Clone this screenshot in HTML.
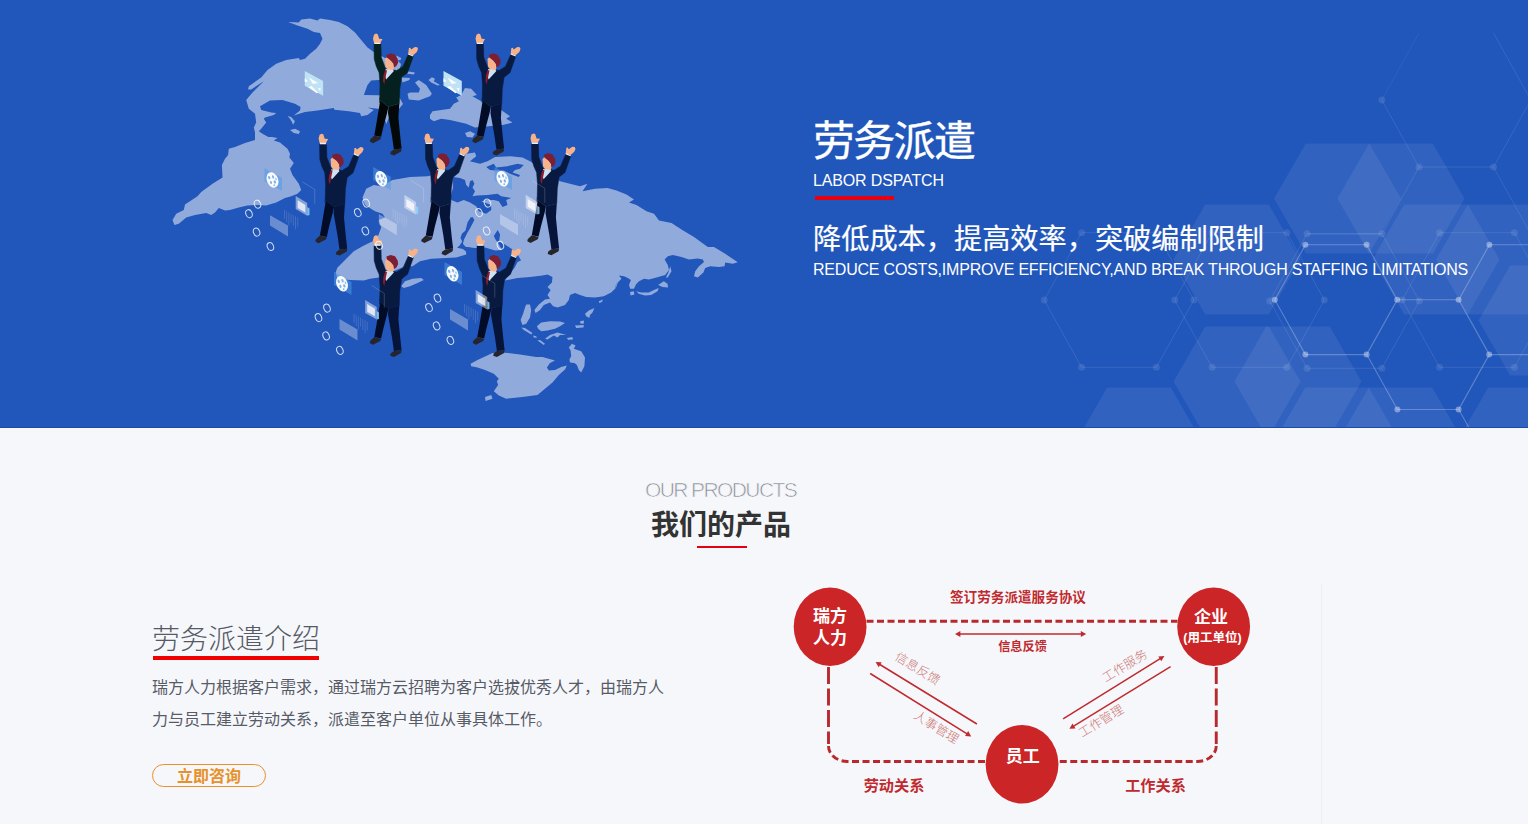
<!DOCTYPE html>
<html lang="zh-CN">
<head>
<meta charset="utf-8">
<title>劳务派遣</title>
<style>
*{margin:0;padding:0;box-sizing:border-box}
html,body{width:1528px;height:824px;overflow:hidden;background:#f6f7fb}
body{font-family:"Liberation Sans","Noto Sans CJK SC",sans-serif;position:relative}
.abs{position:absolute;white-space:nowrap}
#hero{position:absolute;left:0;top:0;width:1528px;height:428px;background:#2156ba;overflow:hidden}
#hero svg{position:absolute;left:0;top:0}
.h1{left:813px;top:112px;font-size:42px;line-height:60px;letter-spacing:-1.7px;color:#fff;font-weight:400;-webkit-text-stroke:0.35px #fff}
.h1en{left:813px;top:169px;font-size:16px;line-height:24px;letter-spacing:-0.15px;color:#fff}
.redbar{position:absolute;left:815px;top:196px;width:79px;height:4px;background:#e60012}
.h2{left:813px;top:218.5px;font-size:28.2px;line-height:40px;color:#fff;-webkit-text-stroke:0.2px #fff}
.h2en{left:813px;top:258px;font-size:16px;line-height:24px;letter-spacing:-0.21px;color:#fff}
#sec{position:absolute;left:0;top:428px;width:1528px;height:396px;background:#f6f7fb}
.op{left:645px;top:476px;font-size:21px;line-height:28px;letter-spacing:-1.6px;color:#868a93;font-weight:300;-webkit-text-stroke:0.7px #f6f7fb}
.op2{left:651px;top:506px;font-size:28px;line-height:40px;color:#333;font-weight:700}
.redbar2{position:absolute;left:697px;top:546px;width:50px;height:2px;background:#e60012}
.t3{left:152px;top:620px;font-size:28px;line-height:40px;color:#555a64;font-weight:300}
.redbar3{position:absolute;left:153px;top:656px;width:166px;height:4px;background:#f20000}
.p{position:absolute;left:152px;top:672px;width:520px;font-size:16px;line-height:32px;color:#565b66}
.btn{position:absolute;left:152px;top:764px;width:114px;height:23px;border:1px solid #e8912b;border-radius:12px;color:#e8912b;font-weight:700;font-size:16px;line-height:23px;text-align:center}
#dia{position:absolute;left:764px;top:560px;width:764px;height:264px}
</style>
</head>
<body>
<div id="hero">
<svg id="herosvg" width="1528" height="428" viewBox="0 0 1528 428">
<path fill="#fff" fill-opacity="0.075" d="M1274.0,198.5 1305.8,143.5 1369.2,143.5 1401.0,198.5 1369.2,253.5 1305.8,253.5Z"/>
<path fill="#fff" fill-opacity="0.075" d="M1337.5,198.5 1369.2,143.5 1432.8,143.5 1464.5,198.5 1432.8,253.5 1369.2,253.5Z"/>
<path fill="#fff" fill-opacity="0.075" d="M1173.5,259.5 1205.2,204.5 1268.8,204.5 1300.5,259.5 1268.8,314.5 1205.2,314.5Z"/>
<path fill="#fff" fill-opacity="0.075" d="M1372.5,259.5 1404.2,204.5 1467.8,204.5 1499.5,259.5 1467.8,314.5 1404.2,314.5Z"/>
<path fill="#fff" fill-opacity="0.075" d="M1436.0,259.5 1467.8,204.5 1531.2,204.5 1563.0,259.5 1531.2,314.5 1467.8,314.5Z"/>
<path fill="#fff" fill-opacity="0.075" d="M1173.5,381.5 1205.2,326.5 1268.8,326.5 1300.5,381.5 1268.8,436.5 1205.2,436.5Z"/>
<path fill="#fff" fill-opacity="0.075" d="M1234.5,381.5 1266.2,326.5 1329.8,326.5 1361.5,381.5 1329.8,436.5 1266.2,436.5Z"/>
<path fill="#fff" fill-opacity="0.075" d="M1478.5,320.5 1510.2,265.5 1573.8,265.5 1605.5,320.5 1573.8,375.5 1510.2,375.5Z"/>
<path fill="#fff" fill-opacity="0.075" d="M1075.5,442.5 1107.2,387.5 1170.8,387.5 1202.5,442.5 1170.8,497.5 1107.2,497.5Z"/>
<path fill="#fff" fill-opacity="0.075" d="M1273.5,442.5 1305.2,387.5 1368.8,387.5 1400.5,442.5 1368.8,497.5 1305.2,497.5Z"/>
<path fill="#fff" fill-opacity="0.075" d="M1337.0,442.5 1368.8,387.5 1432.2,387.5 1464.0,442.5 1432.2,497.5 1368.8,497.5Z"/>
<path fill="#fff" fill-opacity="0.075" d="M1456.5,442.5 1488.2,387.5 1551.8,387.5 1583.5,442.5 1551.8,497.5 1488.2,497.5Z"/>
<path fill="none" stroke="#fff" stroke-opacity="0.10" stroke-width="1" d="M1044.2,300.0 1081.6,232.7 1156.4,232.7 1193.8,300.0 1156.4,367.3 1081.6,367.3Z M1174.7,300.0 1212.1,232.7 1286.9,232.7 1324.3,300.0 1286.9,367.3 1212.1,367.3Z M1269.7,301.0 1307.1,233.7 1381.9,233.7 1419.3,301.0 1381.9,368.3 1307.1,368.3Z M1402.2,300.0 1439.6,232.7 1514.4,232.7 1551.8,300.0 1514.4,367.3 1439.6,367.3Z M1381.75,100L1419,167 M1419,167L1493.5,167 M1493.5,33L1530.75,100 M1530.75,100L1493.5,167 M1419,167L1381.75,234 M1381.75,234L1307.25,234 M1493.5,167L1530.75,234"/>
<path fill="none" stroke="#fff" stroke-opacity="0.06" stroke-width="1" d="M1419,33L1381.75,100"/>
<circle cx="1044.2" cy="300.0" r="3.5" fill="#fff" fill-opacity="0.10"/>
<circle cx="1081.6" cy="232.7" r="3.5" fill="#fff" fill-opacity="0.10"/>
<circle cx="1156.4" cy="232.7" r="3.5" fill="#fff" fill-opacity="0.10"/>
<circle cx="1193.8" cy="300.0" r="3.5" fill="#fff" fill-opacity="0.10"/>
<circle cx="1156.4" cy="367.3" r="3.5" fill="#fff" fill-opacity="0.10"/>
<circle cx="1081.6" cy="367.3" r="3.5" fill="#fff" fill-opacity="0.10"/>
<circle cx="1174.7" cy="300.0" r="3.5" fill="#fff" fill-opacity="0.10"/>
<circle cx="1212.1" cy="232.7" r="3.5" fill="#fff" fill-opacity="0.10"/>
<circle cx="1286.9" cy="232.7" r="3.5" fill="#fff" fill-opacity="0.10"/>
<circle cx="1324.3" cy="300.0" r="3.5" fill="#fff" fill-opacity="0.10"/>
<circle cx="1286.9" cy="367.3" r="3.5" fill="#fff" fill-opacity="0.10"/>
<circle cx="1212.1" cy="367.3" r="3.5" fill="#fff" fill-opacity="0.10"/>
<circle cx="1269.7" cy="301.0" r="3.5" fill="#fff" fill-opacity="0.10"/>
<circle cx="1307.1" cy="233.7" r="3.5" fill="#fff" fill-opacity="0.10"/>
<circle cx="1381.9" cy="233.7" r="3.5" fill="#fff" fill-opacity="0.10"/>
<circle cx="1419.3" cy="301.0" r="3.5" fill="#fff" fill-opacity="0.10"/>
<circle cx="1381.9" cy="368.3" r="3.5" fill="#fff" fill-opacity="0.10"/>
<circle cx="1307.1" cy="368.3" r="3.5" fill="#fff" fill-opacity="0.10"/>
<circle cx="1402.2" cy="300.0" r="3.5" fill="#fff" fill-opacity="0.10"/>
<circle cx="1439.6" cy="232.7" r="3.5" fill="#fff" fill-opacity="0.10"/>
<circle cx="1514.4" cy="232.7" r="3.5" fill="#fff" fill-opacity="0.10"/>
<circle cx="1551.8" cy="300.0" r="3.5" fill="#fff" fill-opacity="0.10"/>
<circle cx="1514.4" cy="367.3" r="3.5" fill="#fff" fill-opacity="0.10"/>
<circle cx="1439.6" cy="367.3" r="3.5" fill="#fff" fill-opacity="0.10"/>
<circle cx="1381.8" cy="100.0" r="3.5" fill="#fff" fill-opacity="0.10"/>
<circle cx="1419.0" cy="167.0" r="3.5" fill="#fff" fill-opacity="0.10"/>
<circle cx="1493.5" cy="167.0" r="3.5" fill="#fff" fill-opacity="0.10"/>
<path fill="none" stroke="#fff" stroke-opacity="0.26" stroke-width="1.1" d="M1274.8,299.7 1305.4,244.8 1366.6,244.8 1397.2,299.7 1366.6,354.6 1305.4,354.6Z M1366.8,354.6 1397.4,299.7 1458.6,299.7 1489.2,354.6 1458.6,409.5 1397.4,409.5Z M1458.8,299.7 1489.4,244.8 1550.6,244.8 1581.2,299.7 1550.6,354.6 1489.4,354.6Z M1458.8,409.5 1489.4,354.6 1550.6,354.6 1581.2,409.5 1550.6,464.4 1489.4,464.4Z"/>
<circle cx="1274.8" cy="299.7" r="3" fill="#fff" fill-opacity="0.38"/>
<circle cx="1305.4" cy="244.8" r="3" fill="#fff" fill-opacity="0.38"/>
<circle cx="1366.6" cy="244.8" r="3" fill="#fff" fill-opacity="0.38"/>
<circle cx="1397.2" cy="299.7" r="3" fill="#fff" fill-opacity="0.38"/>
<circle cx="1366.6" cy="354.6" r="3" fill="#fff" fill-opacity="0.38"/>
<circle cx="1305.4" cy="354.6" r="3" fill="#fff" fill-opacity="0.38"/>
<circle cx="1458.6" cy="299.7" r="3" fill="#fff" fill-opacity="0.38"/>
<circle cx="1489.2" cy="354.6" r="3" fill="#fff" fill-opacity="0.38"/>
<circle cx="1458.6" cy="409.5" r="3" fill="#fff" fill-opacity="0.38"/>
<circle cx="1397.4" cy="409.5" r="3" fill="#fff" fill-opacity="0.38"/>
<circle cx="1489.4" cy="244.8" r="3" fill="#fff" fill-opacity="0.38"/>
<circle cx="1550.6" cy="244.8" r="3" fill="#fff" fill-opacity="0.38"/>
<circle cx="1581.2" cy="299.7" r="3" fill="#fff" fill-opacity="0.38"/>
<circle cx="1550.6" cy="354.6" r="3" fill="#fff" fill-opacity="0.38"/>
<circle cx="1581.2" cy="409.5" r="3" fill="#fff" fill-opacity="0.38"/>
<circle cx="1550.6" cy="464.4" r="3" fill="#fff" fill-opacity="0.38"/>
<circle cx="1489.4" cy="464.4" r="3" fill="#fff" fill-opacity="0.38"/>
<path fill="#90aadc" d="M288.1,22.1 298.8,22.5 301.2,19.4 310,18.5 317.5,20.6 320,18.5 330,20 338.8,21.9 347.5,26.2 355,32.5 361.2,40 367.5,47.5 373.8,51.9 385,58 397,60 401,64 399,72 400,80 398,95 403,104 398,110 392,110 389,117 386.5,124 384,118 380,109 367.5,107.5 373.8,110 367.5,115 361.2,116.2 360,113.1 348.8,111.2 334.4,109.8 333.8,108.1 317.5,110.6 305,111.9 293.8,115.6 300,110.6 300.6,106.9 295,103.8 282.5,100 270,100.6 260,106.2 261.2,110 271.2,112.5 276.2,113.1 273.8,115 265,117.5 263.8,118.8 266.2,122.5 261.2,128.8 258.8,131.2 262.5,133.8 273.8,140 267.5,142.5 260,136.9 255,132.5 253.8,127.5 256.2,122.5 255,113.8 248.8,108.8 246.2,100 246.9,105 246.2,100 252.5,92.5 263.8,81.2 251.2,89.4 248.1,89.4 248.8,86.2 261.2,77.5 267.5,70 276.2,63.8 286.2,60 298.8,58.1 300,60 305,58.8 310,53.8 316.2,48.8 320,43.8 322.5,38.8 320,33.1 313.8,31.9 307.5,28.8 297.5,25.6Z M287.5,116 291.2,116.9 295,121.2 293.1,124.8 291.9,121.9 290,118.8Z M290,130 295,128.8 300,131.2 298.8,134 293.8,133.1Z M396.2,55.6 401.2,58.1 400.6,60 396.9,60.6Z M406.9,71.2 415,72.5 413.8,74.4 407.5,73.8Z M401.2,77.5 410,78.1 409.4,80 402.5,82.5Z M407.5,93.8 410,92.5 418.8,92.5 420,88.8 415,82.5 418.8,80 426.2,85 431.9,93.8 430,96.2 418.8,100.6 408.8,99.4Z M428.5,80 431.9,77.2 435,78.8 433.8,81.2 440,85 437.5,85.6 431.2,82.5Z M430,115 432.5,111.2 450,108.8 453.8,103.8 458.8,101.2 456.2,97.5 461.2,95 465,88.1 471.2,88.8 476.9,95 472.5,96.2 481.2,101.2 501.2,110 510,116.2 506.2,118.8 512.5,122.5 502.5,125 475,127.5 466.2,123.8 450,120 441.2,118.8 433.8,121.2 430,118.8Z M456.2,103.8 463.8,104.4 466.2,106.9 458.8,105.6Z M255,132.5 260,134.4 263.8,135.6 277.5,138.1 273.8,140.6 280,142.5 287.5,148.8 290,153.8 289.4,157.5 293.8,163.1 290,168.8 292.5,175 298.8,183.8 301.2,190 297.5,193.8 291.2,196.2 285,198.1 276.2,202.5 266.2,205.6 257.5,205 247.5,205.6 238.8,207.5 230,210 225,210.6 218.8,208.1 215,212.5 211.2,215 206.2,213.1 195,215 186.2,217.5 178.8,223.8 174.4,225 172.5,220 176.2,213.8 183.8,210 185,204.4 197.5,196.2 201.2,191.9 212.5,183.8 222.5,177.5 221.9,165 225,158.8 228.1,155 228.8,148.8 235,146.9 245,143.1 255,140Z M366.2,188.8 373.8,185 381.2,186.2 392.5,180 410,176.9 427.5,176.2 456.2,170 460,160 466.2,153.8 475,152.5 476.2,156.2 470,161.2 480,163.8 487.5,161.2 495,157 510,156.2 522.5,157.5 530,161.2 555,177.5 560,181.2 580,186.2 587.5,183.8 582.5,191.2 595,188.8 607.5,188 616.5,190.6 626.5,194.4 634,199.4 629,202.5 636.5,205 646.5,211.2 654,213.8 659,220.6 671.5,223.1 681.5,229.4 694,236.9 707.8,246.9 714,246.9 725.2,253.8 737.8,262.2 732.8,263.8 725.2,262.5 724.6,266.2 719,266.9 710.2,266.2 705.2,268.1 703.4,272.5 697.8,277.5 694,276.2 695.2,271.2 699,266.2 704,261.9 702.8,259.4 697.8,258.5 689,259.4 681.5,256.9 672.8,255 667.8,256.2 664.6,259.4 667.8,265 669,270 665.2,275 656.5,277.5 649,279.4 644,278.8 639,281.2 635.9,284.4 634,288.8 630.2,288.8 629,285 630.9,280 627.8,278.1 624,276.2 619,275.6 621.5,278.8 617.8,282.5 615.2,290 616.9,281.2 615,288.8 611.2,292.5 603.8,296.2 595,297.5 586.2,296.9 580,295 575,293.1 570,295 568.8,300 565,305 557.5,307.5 553.1,306.2 550,302.5 543.8,305 540,310 535.6,313.1 534.4,310 538.8,304.4 545,299.4 550,298.8 547.5,295 550.6,290 547.5,286.9 551.9,282.5 552.5,276.9 547.5,274.4 542.5,275.6 530,276.9 517.5,278.1 505,280.6 514.7,267.4 517.6,262.1 521,260.6 518.5,255.8 512.7,249.5 508.8,247 504,244.1 499.1,241.2 500.1,234.4 497.7,230 493.8,235.9 495.7,239.8 498.2,243.2 502,250 495.2,250.4 485,247.5 475,248.1 466.2,246.9 466.2,254.4 456.2,257.5 431.2,258.8 420,261.2 412.5,266.2 405,266.2 378.8,277.5 370,278.8 363.8,280.6 350,280 337.5,278.8 335.6,272.5 337.5,267.5 343.8,261.2 353.8,251.2 362.5,246.2 372.5,241.2 378.8,232.5 371.2,242.5 377.5,237.5 381.2,227.5 378.8,220 385,217.5 382.5,213.8 375,211.2 365,205 362.5,197.5Z M465,133 470,131.2 475,133.8 472.5,137.5 467,137Z M401.2,286.2 405,281.2 412.5,278.8 421.2,278.1 423.8,280 417.5,283.1 410,286.2 403.8,288.1Z M526.2,304.4 530,304.4 531.2,310 530,317.5 526.2,323.8 522.5,325 520.6,320 523.1,313.8 525,307.5Z M536.9,326.2 541.2,322.5 550,321.2 560,321.5 565,323.1 560,326.2 555,328.8 547.5,330.6 541.2,331.2 538.1,328.8Z M521.2,327.5 525,328.1 532.5,333.1 531.2,334.4 523.8,330Z M533.1,335.6 536.2,336.2 536.9,337.8 533.8,337.5Z M545,338.8 550,335 557.5,332.5 566.2,335 560,335 557.5,337.5 553.8,335.6 547.5,339.4Z M567.5,337.8 572.5,337.2 573.1,339.4 568.1,339.8Z M585,313.8 588.8,310.6 594.4,308.1 592.5,312.5 590,315 589.4,318.1 586.2,316.2Z M580,321.2 583.8,320.6 584,323.5 580.6,323.8Z M575,325.6 583.8,325 583.5,327.5 576.2,327.9Z M598.8,301.2 603.1,299.4 601.9,301.9 599.4,302.9Z M636.2,291.2 641.2,292.5 648.8,292.5 655,289.4 658.8,288.1 657.5,291.2 651.2,295 645,295.6 638.8,293.8Z M658.1,285 663.8,281.2 667.5,283.8 668.1,287.5 662.5,286.9Z M630,291.9 633.8,291.2 634.4,294.4 630.6,295.6Z M670.2,266.2 671.5,271.2 667.8,277.5 665.9,277.5 668.4,272.5Z M470.6,363.8 477.5,360 492.5,353.1 505,352.8 520,354.4 536.2,356.9 542.5,356.9 555,360.6 550,363.1 546.9,367.5 548.8,370.6 555,370 561.2,366.9 566.9,365.6 565,369.4 558.8,375 552.5,382.5 545,388.8 537.5,395 522.5,396.9 506.2,398.8 498.8,395.6 493.8,391.2 498.1,385 496.9,381.2 498.8,378.8 493.8,373.8 485,370 477.5,367.5 471.2,366.2Z M485,396.9 491.2,395 492.5,398.8 485.6,401Z M568.8,347.5 571.9,343.8 575.6,345.6 573.8,348.8 581.2,351.2 585,357.5 584.4,366.2 581.2,372.5 578.8,370 576.9,365 574.4,363.1 570,362.5 569.4,359.4 571.2,356.2 570.6,350.6Z M537.5,340.6 540,340 545,343.8 543.8,345Z M566.9,338.1 571.2,337.2 573.1,339 568.1,340Z"/>
<path fill="#2156ba" d="M363.8,95 367.5,85 371.2,80.6 378.8,80 392.5,82.5 392.5,95.6Z"/>
<path fill="#2156ba" d="M453.1,176.9 460,178.1 465,180 466.2,185 468.8,187.5 470,181.2 472.5,180 474.4,183.8 472.5,187.5 475,191.2 472.5,196.2 477.5,195.6 487.5,195 497.5,193.8 501.2,196.2 511.2,198.1 506.2,200 507.5,205 502.5,206.9 498.8,201.2 493.8,200 487.5,200 481.2,201.2 491.2,205 491.2,210 486.2,213.8 478.8,211.2 476.2,206.2 470,202.5 463.8,200 457.5,202.5 451.2,200 450.6,196.2 453.1,187.5Z"/>
<path fill="#2156ba" d="M472.5,216.9 474.4,220 470.2,228 467.1,233.2 464,239.5 462.9,243.7 465.5,246.8 476,248.9 476,252.1 468.7,255.2 467.1,254.2 466,251.6 462.9,248.9 457.1,247.7 459.8,245.3 462.2,241.6 460.5,237.9 461.9,233.8 465.5,230.6 467.5,222.5 470.6,217.5Z"/>
<path fill="#2156ba" d="M486.2,166.9 493.8,163.8 496.2,167.5 507.5,166.2 517.5,163.8 523.8,165 520,168.8 515,170 512.5,172.5 520,175 518.8,176.9 510,173.8 503.8,170.6 496.2,170.6 490,170Z"/>
<g><path fill="#020607" d="M380.2,100.5 388.4,106.8 387,113.2 383.4,126.8 381.1,136.8 374.3,135.5 376.6,122.3 379.3,105.9Z"/><path fill="#030909" d="M388.4,106.8 399.3,103.6 398.4,117.7 400.2,135.9 401.6,148.6 393.9,149.5 392,135.9 389.3,120.5 388,113.2Z"/><path fill="#26252b" d="M374.3,135.5 381.1,137.3 380.2,139.5 373,143.2 369.8,141.4 370.2,139.5Z M393.9,149.5 401.6,148.6 401.1,151.4 393.9,155.5 390.2,154.1 390.7,151.8Z"/><path fill="#05211f" stroke="#05211f" stroke-width="0.5" stroke-linejoin="round" d="M374,44.1 380.9,44.1 381.3,57.3 384.8,66.4 385.7,68.6 393.9,70 396.6,70.5 403,66.4 408.4,54.1 413.4,55.9 407.5,72.7 401.6,77.3 399.8,89.1 399.3,102.7 399.3,103.6 388.4,106.8 380.2,100.5 379.8,97.7 379.6,102.7 380,84.5 379.1,72.7 376.3,66.4 374.2,59.1Z"/><path fill="#f7b28a" d="M374,42.9 373,38.4 374,34.7 375.9,33.6 377.7,34.2 378.6,37.1 379.1,38.7 382.5,38.9 381.1,41.4 380.4,42.9Z M408.2,53.6 408.9,48 410.2,47.8 411.3,49.5 414.8,46.9 417.3,47.3 418,49.1 416.8,52 413.1,55.3Z M385,59.1 387,57.1 391.1,60.5 393.4,64.1 394,67.3 393.1,70.5 388,70.2 385.5,66.4Z"/><path fill="#e8eef8" d="M374.3,42.7 380.2,42.7 380.7,44.1 374.3,44.1Z M408.4,53.2 413.4,55.5 413,56.5 408,54.4Z"/><path fill="#cfe2f3" d="M385.7,69.1 393,70 393.9,70.9 386.1,79.5 384.8,75.5Z"/><path fill="#8e1b2c" d="M385.2,70 387,70.5 385.2,79.1 384.3,84.5 383,80.9 383.4,75.5Z"/><path fill="#7d1f33" d="M386.4,55 390.7,53.3 395,54.7 397.7,58.9 398.1,62.7 396.4,66 394,67.5 393.5,63.8 391.1,60.9 388.9,59.1 386.9,57.8Z"/></g>
<g><path fill="#030c26" d="M482.7,100.5 490.9,106.8 489.5,113.2 485.9,126.8 483.6,136.8 476.8,135.5 479.1,122.3 481.8,105.9Z"/><path fill="#06143a" d="M490.9,106.8 501.8,103.6 500.9,117.7 502.7,135.9 504.1,148.6 496.4,149.5 494.5,135.9 491.8,120.5 490.5,113.2Z"/><path fill="#26252b" d="M476.8,135.5 483.6,137.3 482.7,139.5 475.5,143.2 472.3,141.4 472.7,139.5Z M496.4,149.5 504.1,148.6 503.6,151.4 496.4,155.5 492.7,154.1 493.2,151.8Z"/><path fill="#081a40" stroke="#081a40" stroke-width="0.5" stroke-linejoin="round" d="M476.5,44.1 483.4,44.1 483.8,57.3 487.3,66.4 488.2,68.6 496.4,70 499.1,70.5 505.5,66.4 510.9,54.1 515.9,55.9 510,72.7 504.1,77.3 502.3,89.1 501.8,102.7 501.8,103.6 490.9,106.8 482.7,100.5 482.3,97.7 482.1,102.7 482.5,84.5 481.6,72.7 478.8,66.4 476.7,59.1Z"/><path fill="#f7b28a" d="M476.5,42.9 475.5,38.4 476.5,34.7 478.4,33.6 480.2,34.2 481.1,37.1 481.6,38.7 485,38.9 483.6,41.4 482.9,42.9Z M510.7,53.6 511.4,48 512.7,47.8 513.8,49.5 517.3,46.9 519.8,47.3 520.5,49.1 519.3,52 515.6,55.3Z M487.5,59.1 489.5,57.1 493.6,60.5 495.9,64.1 496.5,67.3 495.6,70.5 490.5,70.2 488,66.4Z"/><path fill="#e8eef8" d="M476.8,42.7 482.7,42.7 483.2,44.1 476.8,44.1Z M510.9,53.2 515.9,55.5 515.5,56.5 510.5,54.4Z"/><path fill="#cfe2f3" d="M488.2,69.1 495.5,70 496.4,70.9 488.6,79.5 487.3,75.5Z"/><path fill="#8e1b2c" d="M487.7,70 489.5,70.5 487.7,79.1 486.8,84.5 485.5,80.9 485.9,75.5Z"/><path fill="#7d1f33" d="M488.9,55 493.2,53.3 497.5,54.7 500.2,58.9 500.6,62.7 498.9,66 496.5,67.5 496,63.8 493.6,60.9 491.4,59.1 489.4,57.8Z"/></g>
<g><path fill="#030c26" d="M325.8,200.6 334,206.9 332.6,213.3 329,226.9 326.8,236.9 319.9,235.6 322.2,222.4 324.9,206Z"/><path fill="#06143a" d="M334,206.9 344.9,203.7 344,217.8 345.8,236 347.2,248.7 339.5,249.6 337.6,236 334.9,220.6 333.6,213.3Z"/><path fill="#26252b" d="M319.9,235.6 326.8,237.4 325.8,239.6 318.6,243.3 315.4,241.5 315.8,239.6Z M339.5,249.6 347.2,248.7 346.8,251.5 339.5,255.6 335.8,254.2 336.3,251.9Z"/><path fill="#081a40" stroke="#081a40" stroke-width="0.5" stroke-linejoin="round" d="M319.6,144.2 326.5,144.2 326.9,157.4 330.4,166.5 331.3,168.7 339.5,170.1 342.2,170.6 348.6,166.5 354,154.2 359,156 353.1,172.8 347.2,177.4 345.4,189.2 344.9,202.8 344.9,203.7 334,206.9 325.8,200.6 325.4,197.8 325.2,202.8 325.6,184.6 324.8,172.8 321.9,166.5 319.8,159.2Z"/><path fill="#f7b28a" d="M319.6,143 318.6,138.5 319.6,134.8 321.5,133.7 323.3,134.3 324.2,137.2 324.8,138.8 328.1,139 326.8,141.5 326,143Z M353.8,153.7 354.5,148.1 355.9,147.9 356.9,149.6 360.4,147 362.9,147.4 363.6,149.2 362.4,152.1 358.8,155.4Z M330.6,159.2 332.6,157.2 336.8,160.6 339,164.2 339.6,167.4 338.8,170.6 333.6,170.3 331.1,166.5Z"/><path fill="#e8eef8" d="M319.9,142.8 325.8,142.8 326.3,144.2 319.9,144.2Z M354,153.3 359,155.6 358.6,156.6 353.6,154.5Z"/><path fill="#cfe2f3" d="M331.3,169.2 338.6,170.1 339.5,171 331.8,179.6 330.4,175.6Z"/><path fill="#8e1b2c" d="M330.8,170.1 332.6,170.6 330.8,179.2 329.9,184.6 328.6,181 329,175.6Z"/><path fill="#7d1f33" d="M332,155.1 336.3,153.4 340.6,154.8 343.3,159 343.8,162.8 342,166.1 339.6,167.6 339.1,163.9 336.8,161 334.5,159.2 332.5,157.9Z"/></g>
<g><path fill="#030c26" d="M431.6,200.4 439.8,206.7 438.4,213.1 434.8,226.7 432.6,236.7 425.8,235.4 428.1,222.2 430.8,205.8Z"/><path fill="#06143a" d="M439.8,206.7 450.8,203.5 449.8,217.6 451.6,235.8 453.1,248.5 445.3,249.4 443.4,235.8 440.8,220.4 439.4,213.1Z"/><path fill="#26252b" d="M425.8,235.4 432.6,237.2 431.6,239.4 424.4,243.1 421.2,241.3 421.6,239.4Z M445.3,249.4 453.1,248.5 452.6,251.3 445.3,255.4 441.6,254 442.1,251.7Z"/><path fill="#081a40" stroke="#081a40" stroke-width="0.5" stroke-linejoin="round" d="M425.4,144 432.3,144 432.8,157.2 436.2,166.3 437.1,168.5 445.3,169.9 448.1,170.4 454.4,166.3 459.8,154 464.8,155.8 458.9,172.6 453.1,177.2 451.2,189 450.8,202.6 450.8,203.5 439.8,206.7 431.6,200.4 431.2,197.6 431.1,202.6 431.4,184.4 430.6,172.6 427.8,166.3 425.6,159Z"/><path fill="#f7b28a" d="M425.4,142.8 424.4,138.3 425.4,134.6 427.3,133.5 429.1,134.1 430.1,137 430.6,138.6 433.9,138.8 432.6,141.3 431.8,142.8Z M459.6,153.5 460.3,147.9 461.7,147.7 462.7,149.4 466.2,146.8 468.7,147.2 469.4,149 468.2,151.9 464.6,155.2Z M436.4,159 438.4,157 442.6,160.4 444.8,164 445.4,167.2 444.6,170.4 439.4,170.1 436.9,166.3Z"/><path fill="#e8eef8" d="M425.8,142.6 431.6,142.6 432.1,144 425.8,144Z M459.8,153.1 464.8,155.4 464.4,156.4 459.4,154.3Z"/><path fill="#cfe2f3" d="M437.1,169 444.4,169.9 445.3,170.8 437.6,179.4 436.2,175.4Z"/><path fill="#8e1b2c" d="M436.6,169.9 438.4,170.4 436.6,179 435.8,184.4 434.4,180.8 434.8,175.4Z"/><path fill="#7d1f33" d="M437.8,154.9 442.1,153.2 446.4,154.6 449.1,158.8 449.6,162.6 447.8,165.9 445.4,167.4 444.9,163.7 442.6,160.8 440.3,159 438.3,157.7Z"/></g>
<g><path fill="#030c26" d="M537.7,200.3 545.9,206.6 544.5,213 540.9,226.6 538.6,236.6 531.8,235.3 534.1,222.1 536.8,205.7Z"/><path fill="#06143a" d="M545.9,206.6 556.8,203.4 555.9,217.5 557.7,235.7 559.1,248.4 551.4,249.3 549.5,235.7 546.8,220.3 545.5,213Z"/><path fill="#26252b" d="M531.8,235.3 538.6,237.1 537.7,239.3 530.5,243 527.3,241.2 527.7,239.3Z M551.4,249.3 559.1,248.4 558.6,251.2 551.4,255.3 547.7,253.9 548.2,251.6Z"/><path fill="#081a40" stroke="#081a40" stroke-width="0.5" stroke-linejoin="round" d="M531.5,143.9 538.4,143.9 538.8,157.1 542.3,166.2 543.2,168.4 551.4,169.8 554.1,170.3 560.5,166.2 565.9,153.9 570.9,155.7 565,172.5 559.1,177.1 557.3,188.9 556.8,202.5 556.8,203.4 545.9,206.6 537.7,200.3 537.3,197.5 537.1,202.5 537.5,184.3 536.6,172.5 533.8,166.2 531.7,158.9Z"/><path fill="#f7b28a" d="M531.5,142.7 530.5,138.2 531.5,134.5 533.4,133.4 535.2,134 536.1,136.9 536.6,138.5 540,138.7 538.6,141.2 537.9,142.7Z M565.7,153.4 566.4,147.8 567.7,147.6 568.8,149.3 572.3,146.7 574.8,147.1 575.5,148.9 574.3,151.8 570.6,155.1Z M542.5,158.9 544.5,156.9 548.6,160.3 550.9,163.9 551.5,167.1 550.6,170.3 545.5,170 543,166.2Z"/><path fill="#e8eef8" d="M531.8,142.5 537.7,142.5 538.2,143.9 531.8,143.9Z M565.9,153 570.9,155.3 570.5,156.3 565.5,154.2Z"/><path fill="#cfe2f3" d="M543.2,168.9 550.5,169.8 551.4,170.7 543.6,179.3 542.3,175.3Z"/><path fill="#8e1b2c" d="M542.7,169.8 544.5,170.3 542.7,178.9 541.8,184.3 540.5,180.7 540.9,175.3Z"/><path fill="#7d1f33" d="M543.9,154.8 548.2,153.1 552.5,154.5 555.2,158.7 555.6,162.5 553.9,165.8 551.5,167.3 551,163.6 548.6,160.7 546.4,158.9 544.4,157.6Z"/></g>
<g><path fill="#030c26" d="M380.2,302.1 388.4,308.4 387,314.8 383.4,328.4 381.1,338.4 374.3,337.1 376.6,323.9 379.3,307.5Z"/><path fill="#06143a" d="M388.4,308.4 399.3,305.2 398.4,319.3 400.2,337.5 401.6,350.2 393.9,351.1 392,337.5 389.3,322.1 388,314.8Z"/><path fill="#26252b" d="M374.3,337.1 381.1,338.9 380.2,341.1 373,344.8 369.8,343 370.2,341.1Z M393.9,351.1 401.6,350.2 401.1,353 393.9,357.1 390.2,355.7 390.7,353.4Z"/><path fill="#081a40" stroke="#081a40" stroke-width="0.5" stroke-linejoin="round" d="M374,245.7 380.9,245.7 381.3,258.9 384.8,268 385.7,270.2 393.9,271.6 396.6,272.1 403,268 408.4,255.7 413.4,257.5 407.5,274.3 401.6,278.9 399.8,290.7 399.3,304.3 399.3,305.2 388.4,308.4 380.2,302.1 379.8,299.3 379.6,304.3 380,286.1 379.1,274.3 376.3,268 374.2,260.7Z"/><path fill="#f7b28a" d="M374,244.5 373,240 374,236.3 375.9,235.2 377.7,235.8 378.6,238.7 379.1,240.3 382.5,240.5 381.1,243 380.4,244.5Z M408.2,255.2 408.9,249.6 410.2,249.4 411.3,251.1 414.8,248.5 417.3,248.9 418,250.7 416.8,253.6 413.1,256.9Z M385,260.7 387,258.7 391.1,262.1 393.4,265.7 394,268.9 393.1,272.1 388,271.8 385.5,268Z"/><path fill="#e8eef8" d="M374.3,244.3 380.2,244.3 380.7,245.7 374.3,245.7Z M408.4,254.8 413.4,257.1 413,258.1 408,256Z"/><path fill="#cfe2f3" d="M385.7,270.7 393,271.6 393.9,272.5 386.1,281.1 384.8,277.1Z"/><path fill="#8e1b2c" d="M385.2,271.6 387,272.1 385.2,280.7 384.3,286.1 383,282.5 383.4,277.1Z"/><path fill="#7d1f33" d="M386.4,256.6 390.7,254.9 395,256.3 397.7,260.5 398.1,264.3 396.4,267.6 394,269.1 393.5,265.4 391.1,262.5 388.9,260.7 386.9,259.4Z"/></g>
<g><path fill="#030c26" d="M483.2,302.1 491.4,308.4 490,314.8 486.4,328.4 484.1,338.4 477.3,337.1 479.6,323.9 482.3,307.5Z"/><path fill="#06143a" d="M491.4,308.4 502.3,305.2 501.4,319.3 503.2,337.5 504.6,350.2 496.9,351.1 495,337.5 492.3,322.1 491,314.8Z"/><path fill="#26252b" d="M477.3,337.1 484.1,338.9 483.2,341.1 476,344.8 472.8,343 473.2,341.1Z M496.9,351.1 504.6,350.2 504.1,353 496.9,357.1 493.2,355.7 493.7,353.4Z"/><path fill="#081a40" stroke="#081a40" stroke-width="0.5" stroke-linejoin="round" d="M477,245.7 483.9,245.7 484.3,258.9 487.8,268 488.7,270.2 496.9,271.6 499.6,272.1 506,268 511.4,255.7 516.4,257.5 510.5,274.3 504.6,278.9 502.8,290.7 502.3,304.3 502.3,305.2 491.4,308.4 483.2,302.1 482.8,299.3 482.6,304.3 483,286.1 482.1,274.3 479.3,268 477.2,260.7Z"/><path fill="#f7b28a" d="M477,244.5 476,240 477,236.3 478.9,235.2 480.7,235.8 481.6,238.7 482.1,240.3 485.5,240.5 484.1,243 483.4,244.5Z M511.2,255.2 511.9,249.6 513.2,249.4 514.3,251.1 517.8,248.5 520.3,248.9 521,250.7 519.8,253.6 516.1,256.9Z M488,260.7 490,258.7 494.1,262.1 496.4,265.7 497,268.9 496.1,272.1 491,271.8 488.5,268Z"/><path fill="#e8eef8" d="M477.3,244.3 483.2,244.3 483.7,245.7 477.3,245.7Z M511.4,254.8 516.4,257.1 516,258.1 511,256Z"/><path fill="#cfe2f3" d="M488.7,270.7 496,271.6 496.9,272.5 489.1,281.1 487.8,277.1Z"/><path fill="#8e1b2c" d="M488.2,271.6 490,272.1 488.2,280.7 487.3,286.1 486,282.5 486.4,277.1Z"/><path fill="#7d1f33" d="M489.4,256.6 493.7,254.9 498,256.3 500.7,260.5 501.1,264.3 499.4,267.6 497,269.1 496.5,265.4 494.1,262.5 491.9,260.7 489.9,259.4Z"/></g>
<g><path fill="#4f9be6" fill-opacity="0.55" d="M264.5,168.2 282,178 282,191.1 264.5,181.3Z"/><g transform="translate(272.5 179.9) rotate(-22)"><ellipse rx="5.6" ry="8" fill="#fff" fill-opacity="0.96"/><g fill="#5a9be0" fill-opacity="0.75"><ellipse cx="-2.2" cy="-3.4" rx="1.1" ry="1.7"/><ellipse cx="1.6" cy="-2.6" rx="1" ry="1.8"/><ellipse cx="-2.4" cy="1.8" rx="1" ry="1.6"/><ellipse cx="1.4" cy="2.8" rx="1.1" ry="1.7"/><ellipse cx="3.6" cy="0.4" rx="0.6" ry="1.3"/><ellipse cx="-0.4" cy="5.6" rx="0.9" ry="0.9"/></g></g><ellipse cx="257.5" cy="204.2" rx="3.1" ry="4.1" transform="rotate(-22 257.5 204.2)" fill="none" stroke="#fff" stroke-opacity="0.8" stroke-width="1"/><ellipse cx="249.0" cy="213.7" rx="3.1" ry="4.1" transform="rotate(-22 249.0 213.7)" fill="none" stroke="#fff" stroke-opacity="0.8" stroke-width="1"/><ellipse cx="256.6" cy="232.1" rx="3.1" ry="4.1" transform="rotate(-22 256.6 232.1)" fill="none" stroke="#fff" stroke-opacity="0.8" stroke-width="1"/><ellipse cx="270.4" cy="246.5" rx="3.1" ry="4.1" transform="rotate(-22 270.4 246.5)" fill="none" stroke="#fff" stroke-opacity="0.8" stroke-width="1"/><path fill="#fff" fill-opacity="0.33" d="M270,215.2 288,225.5 288,236.5 270,225.5Z"/><path fill="#fff" fill-opacity="0.45" d="M295.7,196 307.2,203.1 307.2,215.7 295.7,209.1Z"/><path fill="#fff" fill-opacity="0.75" d="M297.7,200.2 305.4,204.9 305.4,212.4 297.7,207.9Z"/><path fill="#8fd8ff" fill-opacity="0.8" d="M307.2,207 309.5,208.5 309.5,215 307.2,215.7Z"/><path fill="none" stroke="#fff" stroke-opacity="0.3" stroke-width="0.6" d="M302.3,181.8L314.8,189.5V203.7"/><path fill="none" stroke="#fff" stroke-opacity="0.25" stroke-width="0.6" d="M284.5,209.9v9.0M286.7,211.2v11.0M288.9,212.5v13.0M291.1,213.8v9.0M293.3,215.1v11.0M295.5,216.4v13.0M297.7,217.7v9.0"/></g>
<g><path fill="#4f9be6" fill-opacity="0.55" d="M373.2,167.1 390.8,176.8 390.8,189.9 373.2,180.2Z"/><g transform="translate(381.25 178.75) rotate(-22)"><ellipse rx="5.6" ry="8" fill="#fff" fill-opacity="0.96"/><g fill="#5a9be0" fill-opacity="0.75"><ellipse cx="-2.2" cy="-3.4" rx="1.1" ry="1.7"/><ellipse cx="1.6" cy="-2.6" rx="1" ry="1.8"/><ellipse cx="-2.4" cy="1.8" rx="1" ry="1.6"/><ellipse cx="1.4" cy="2.8" rx="1.1" ry="1.7"/><ellipse cx="3.6" cy="0.4" rx="0.6" ry="1.3"/><ellipse cx="-0.4" cy="5.6" rx="0.9" ry="0.9"/></g></g><ellipse cx="366.2" cy="203.1" rx="3.1" ry="4.1" transform="rotate(-22 366.2 203.1)" fill="none" stroke="#fff" stroke-opacity="0.8" stroke-width="1"/><ellipse cx="357.8" cy="212.6" rx="3.1" ry="4.1" transform="rotate(-22 357.8 212.6)" fill="none" stroke="#fff" stroke-opacity="0.8" stroke-width="1"/><ellipse cx="365.4" cy="230.9" rx="3.1" ry="4.1" transform="rotate(-22 365.4 230.9)" fill="none" stroke="#fff" stroke-opacity="0.8" stroke-width="1"/><ellipse cx="379.1" cy="245.3" rx="3.1" ry="4.1" transform="rotate(-22 379.1 245.3)" fill="none" stroke="#fff" stroke-opacity="0.8" stroke-width="1"/><path fill="#fff" fill-opacity="0.33" d="M378.8,214.1 396.8,224.3 396.8,235.3 378.8,224.3Z"/><path fill="#fff" fill-opacity="0.45" d="M404.4,194.8 415.9,201.9 415.9,214.6 404.4,207.9Z"/><path fill="#fff" fill-opacity="0.75" d="M406.4,199.1 414.1,203.8 414.1,211.2 406.4,206.8Z"/><path fill="#8fd8ff" fill-opacity="0.8" d="M415.9,205.8 418.2,207.3 418.2,213.8 415.9,214.6Z"/><path fill="none" stroke="#fff" stroke-opacity="0.3" stroke-width="0.6" d="M411.1,180.7L423.6,188.3V202.6"/><path fill="none" stroke="#fff" stroke-opacity="0.25" stroke-width="0.6" d="M393.2,208.8v9.0M395.4,210.1v11.0M397.6,211.3v13.0M399.9,212.7v9.0M402.1,213.9v11.0M404.2,215.2v13.0M406.4,216.6v9.0"/></g>
<g><path fill="#4f9be6" fill-opacity="0.55" d="M494.5,167.1 512,176.8 512,189.9 494.5,180.2Z"/><g transform="translate(502.5 178.75) rotate(-22)"><ellipse rx="5.6" ry="8" fill="#fff" fill-opacity="0.96"/><g fill="#5a9be0" fill-opacity="0.75"><ellipse cx="-2.2" cy="-3.4" rx="1.1" ry="1.7"/><ellipse cx="1.6" cy="-2.6" rx="1" ry="1.8"/><ellipse cx="-2.4" cy="1.8" rx="1" ry="1.6"/><ellipse cx="1.4" cy="2.8" rx="1.1" ry="1.7"/><ellipse cx="3.6" cy="0.4" rx="0.6" ry="1.3"/><ellipse cx="-0.4" cy="5.6" rx="0.9" ry="0.9"/></g></g><ellipse cx="487.5" cy="203.1" rx="3.1" ry="4.1" transform="rotate(-22 487.5 203.1)" fill="none" stroke="#fff" stroke-opacity="0.8" stroke-width="1"/><ellipse cx="479.0" cy="212.6" rx="3.1" ry="4.1" transform="rotate(-22 479.0 212.6)" fill="none" stroke="#fff" stroke-opacity="0.8" stroke-width="1"/><ellipse cx="486.6" cy="230.9" rx="3.1" ry="4.1" transform="rotate(-22 486.6 230.9)" fill="none" stroke="#fff" stroke-opacity="0.8" stroke-width="1"/><ellipse cx="500.4" cy="245.3" rx="3.1" ry="4.1" transform="rotate(-22 500.4 245.3)" fill="none" stroke="#fff" stroke-opacity="0.8" stroke-width="1"/><path fill="#fff" fill-opacity="0.33" d="M500,214.1 518,224.3 518,235.3 500,224.3Z"/><path fill="#fff" fill-opacity="0.45" d="M525.7,194.8 537.2,201.9 537.2,214.6 525.7,207.9Z"/><path fill="#fff" fill-opacity="0.75" d="M527.7,199.1 535.4,203.8 535.4,211.2 527.7,206.8Z"/><path fill="#8fd8ff" fill-opacity="0.8" d="M537.2,205.8 539.5,207.3 539.5,213.8 537.2,214.6Z"/><path fill="none" stroke="#fff" stroke-opacity="0.3" stroke-width="0.6" d="M532.3,180.7L544.8,188.3V202.6"/><path fill="none" stroke="#fff" stroke-opacity="0.25" stroke-width="0.6" d="M514.5,208.8v9.0M516.7,210.1v11.0M518.9,211.3v13.0M521.1,212.7v9.0M523.3,213.9v11.0M525.5,215.2v13.0M527.7,216.6v9.0"/></g>
<g><path fill="#4f9be6" fill-opacity="0.55" d="M334,272.1 351.5,281.9 351.5,294.9 334,285.1Z"/><g transform="translate(342 283.75) rotate(-22)"><ellipse rx="5.6" ry="8" fill="#fff" fill-opacity="0.96"/><g fill="#5a9be0" fill-opacity="0.75"><ellipse cx="-2.2" cy="-3.4" rx="1.1" ry="1.7"/><ellipse cx="1.6" cy="-2.6" rx="1" ry="1.8"/><ellipse cx="-2.4" cy="1.8" rx="1" ry="1.6"/><ellipse cx="1.4" cy="2.8" rx="1.1" ry="1.7"/><ellipse cx="3.6" cy="0.4" rx="0.6" ry="1.3"/><ellipse cx="-0.4" cy="5.6" rx="0.9" ry="0.9"/></g></g><ellipse cx="327.0" cy="308.1" rx="3.1" ry="4.1" transform="rotate(-22 327.0 308.1)" fill="none" stroke="#fff" stroke-opacity="0.8" stroke-width="1"/><ellipse cx="318.5" cy="317.6" rx="3.1" ry="4.1" transform="rotate(-22 318.5 317.6)" fill="none" stroke="#fff" stroke-opacity="0.8" stroke-width="1"/><ellipse cx="326.1" cy="335.9" rx="3.1" ry="4.1" transform="rotate(-22 326.1 335.9)" fill="none" stroke="#fff" stroke-opacity="0.8" stroke-width="1"/><ellipse cx="339.9" cy="350.4" rx="3.1" ry="4.1" transform="rotate(-22 339.9 350.4)" fill="none" stroke="#fff" stroke-opacity="0.8" stroke-width="1"/><path fill="#fff" fill-opacity="0.33" d="M339.5,319.1 357.5,329.4 357.5,340.4 339.5,329.4Z"/><path fill="#fff" fill-opacity="0.45" d="M365.2,299.9 376.7,306.9 376.7,319.6 365.2,312.9Z"/><path fill="#fff" fill-opacity="0.75" d="M367.2,304.1 374.9,308.8 374.9,316.2 367.2,311.8Z"/><path fill="#8fd8ff" fill-opacity="0.8" d="M376.7,310.9 379,312.4 379,318.9 376.7,319.6Z"/><path fill="none" stroke="#fff" stroke-opacity="0.3" stroke-width="0.6" d="M371.8,285.6L384.3,293.4V307.6"/><path fill="none" stroke="#fff" stroke-opacity="0.25" stroke-width="0.6" d="M354.0,313.8v9.0M356.2,315.1v11.0M358.4,316.4v13.0M360.6,317.6v9.0M362.8,318.9v11.0M365.0,320.2v13.0M367.2,321.6v9.0"/></g>
<g><path fill="#4f9be6" fill-opacity="0.55" d="M444.5,262.1 462,271.9 462,284.9 444.5,275.1Z"/><g transform="translate(452.5 273.75) rotate(-22)"><ellipse rx="5.6" ry="8" fill="#fff" fill-opacity="0.96"/><g fill="#5a9be0" fill-opacity="0.75"><ellipse cx="-2.2" cy="-3.4" rx="1.1" ry="1.7"/><ellipse cx="1.6" cy="-2.6" rx="1" ry="1.8"/><ellipse cx="-2.4" cy="1.8" rx="1" ry="1.6"/><ellipse cx="1.4" cy="2.8" rx="1.1" ry="1.7"/><ellipse cx="3.6" cy="0.4" rx="0.6" ry="1.3"/><ellipse cx="-0.4" cy="5.6" rx="0.9" ry="0.9"/></g></g><ellipse cx="437.5" cy="298.1" rx="3.1" ry="4.1" transform="rotate(-22 437.5 298.1)" fill="none" stroke="#fff" stroke-opacity="0.8" stroke-width="1"/><ellipse cx="429.0" cy="307.6" rx="3.1" ry="4.1" transform="rotate(-22 429.0 307.6)" fill="none" stroke="#fff" stroke-opacity="0.8" stroke-width="1"/><ellipse cx="436.6" cy="325.9" rx="3.1" ry="4.1" transform="rotate(-22 436.6 325.9)" fill="none" stroke="#fff" stroke-opacity="0.8" stroke-width="1"/><ellipse cx="450.4" cy="340.4" rx="3.1" ry="4.1" transform="rotate(-22 450.4 340.4)" fill="none" stroke="#fff" stroke-opacity="0.8" stroke-width="1"/><path fill="#fff" fill-opacity="0.33" d="M450,309.1 468,319.4 468,330.4 450,319.4Z"/><path fill="#fff" fill-opacity="0.45" d="M475.7,289.9 487.2,296.9 487.2,309.6 475.7,302.9Z"/><path fill="#fff" fill-opacity="0.75" d="M477.7,294.1 485.4,298.8 485.4,306.2 477.7,301.8Z"/><path fill="#8fd8ff" fill-opacity="0.8" d="M487.2,300.9 489.5,302.4 489.5,308.9 487.2,309.6Z"/><path fill="none" stroke="#fff" stroke-opacity="0.3" stroke-width="0.6" d="M482.3,275.6L494.8,283.4V297.6"/><path fill="none" stroke="#fff" stroke-opacity="0.25" stroke-width="0.6" d="M464.5,303.8v9.0M466.7,305.1v11.0M468.9,306.4v13.0M471.1,307.6v9.0M473.3,308.9v11.0M475.5,310.2v13.0M477.7,311.6v9.0"/></g>
<path fill="#bfe3f5" d="M304.8,70.9 323.1,81 323.1,95.8 304.8,85.7Z"/>
<path fill="#fff" d="M308.9,77.5 317.9,82.9 313,84Z M304.8,78 307.8,81.3 304.8,82.1Z M308.4,87.3 311.4,86.1 318.2,92.8 316.8,93.3Z M317.9,88.4 320.6,87.7 320.2,91.2Z"/>
<path fill="#bfe3f5" d="M443.5,70.9 461.8,81 461.8,95.8 443.5,85.7Z"/>
<path fill="#fff" d="M447.6,77.5 456.6,82.9 451.7,84Z M443.5,78 446.5,81.3 443.5,82.1Z M447.1,87.3 450.1,86.1 456.9,92.8 455.5,93.3Z M456.6,88.4 459.3,87.7 458.9,91.2Z"/>
</svg>
<div class="abs h1">劳务派遣</div>
<div class="abs h1en">LABOR DSPATCH</div>
<div class="redbar"></div>
<div class="abs h2">降低成本，提高效率，突破编制限制</div>
<div class="abs h2en">REDUCE COSTS,IMPROVE EFFICIENCY,AND BREAK THROUGH STAFFING LIMITATIONS</div>
</div>
<div id="sec"></div>
<div style="position:absolute;left:0;top:427px;width:1528px;height:1px;background:#1c4aa8"></div>
<div class="abs op">OUR PRODUCTS</div>
<div class="abs op2">我们的产品</div>
<div class="redbar2"></div>
<div class="abs t3">劳务派遣介绍</div>
<div class="redbar3"></div>
<div class="p">瑞方人力根据客户需求，通过瑞方云招聘为客户选拔优秀人才，由瑞方人力与员工建立劳动关系，派遣至客户单位从事具体工作。</div>
<div class="btn">立即咨询</div>
<svg id="dia" width="764" height="264" viewBox="764 560 764 264">
<rect x="1321" y="584" width="1" height="240" fill="#eff0f4"/>
<g fill="none" stroke="#b8292d" stroke-width="2.9">
<path stroke-dasharray="7 3.5" d="M866.5,621.25H1177.5"/>
<path stroke-dasharray="17 4.5" d="M828.5,667V744M1216.25,667V744"/>
<path stroke-dasharray="7 3.5" d="M828.5,746A19,15.5 0 0 0 847.5,761.5H986"/>
<path stroke-dasharray="7 3.5" d="M1216.25,746A19,15.5 0 0 1 1197.25,761.5H1058"/>
</g>
<ellipse cx="830.1" cy="626.75" rx="36.4" ry="39.25" fill="#cb2528"/>
<ellipse cx="1213.65" cy="626.75" rx="36.4" ry="39.25" fill="#cb2528"/>
<ellipse cx="1022.05" cy="764.25" rx="36.4" ry="39.25" fill="#cb2528"/>
<path fill="#c02a2e" d="M955.0,634.0L960.4,631.1L960.4,636.9Z"/><path stroke="#c02a2e" stroke-width="1.5" fill="none" d="M958.0,634.0L1083.2,634.0"/><path fill="#c02a2e" d="M1086.2,634.0L1080.8,636.9L1080.8,631.1Z"/>
<path stroke="#c02a2e" stroke-width="1.5" fill="none" d="M976.9,724.0L878.2,663.5"/><path fill="#c02a2e" d="M875.6,661.9L881.7,662.2L878.7,667.2Z"/>
<path stroke="#c02a2e" stroke-width="1.5" fill="none" d="M870.2,673.5L968.7,734.8"/><path fill="#c02a2e" d="M971.2,736.4L965.1,736.0L968.2,731.1Z"/>
<path stroke="#c02a2e" stroke-width="1.5" fill="none" d="M1063.1,718.8L1161.8,657.6"/><path fill="#c02a2e" d="M1164.4,656.0L1161.3,661.3L1158.3,656.4Z"/>
<path stroke="#c02a2e" stroke-width="1.5" fill="none" d="M1170.6,666.6L1072.0,727.2"/><path fill="#c02a2e" d="M1069.4,728.8L1072.5,723.5L1075.5,728.4Z"/>
<text x="830.1" y="616.1" font-family="Liberation Sans, Noto Sans CJK SC, sans-serif" font-size="17" font-weight="700" fill="#fff" text-anchor="middle" dominant-baseline="central">瑞方</text>
<text x="830.1" y="638" font-family="Liberation Sans, Noto Sans CJK SC, sans-serif" font-size="17" font-weight="700" fill="#fff" text-anchor="middle" dominant-baseline="central">人力</text>
<text x="1211" y="617.6" font-family="Liberation Sans, Noto Sans CJK SC, sans-serif" font-size="17" font-weight="700" fill="#fff" text-anchor="middle" dominant-baseline="central">企业</text>
<text x="1212.5" y="637.5" font-family="Liberation Sans, Noto Sans CJK SC, sans-serif" font-size="12.5" font-weight="700" fill="#fff" text-anchor="middle" dominant-baseline="central">(用工单位)</text>
<text x="1022.8" y="756" font-family="Liberation Sans, Noto Sans CJK SC, sans-serif" font-size="17" font-weight="700" fill="#fff" text-anchor="middle" dominant-baseline="central">员工</text>
<text x="1018" y="597" font-family="Liberation Sans, Noto Sans CJK SC, sans-serif" font-size="13.6" font-weight="700" fill="#c02a2e" text-anchor="middle" dominant-baseline="central">签订劳务派遣服务协议</text>
<text x="1022.5" y="647" font-family="Liberation Sans, Noto Sans CJK SC, sans-serif" font-size="12.2" font-weight="700" fill="#c02a2e" text-anchor="middle" dominant-baseline="central">信息反馈</text>
<text x="894" y="785.5" font-family="Liberation Sans, Noto Sans CJK SC, sans-serif" font-size="15.2" font-weight="700" fill="#c02a2e" text-anchor="middle" dominant-baseline="central">劳动关系</text>
<text x="1155.5" y="785.5" font-family="Liberation Sans, Noto Sans CJK SC, sans-serif" font-size="15.2" font-weight="700" fill="#c02a2e" text-anchor="middle" dominant-baseline="central">工作关系</text>
<text x="917.5" y="668.75" font-family="Liberation Sans, Noto Sans CJK SC, sans-serif" font-size="12.5" font-weight="300" fill="#cc7773" text-anchor="middle" dominant-baseline="central" transform="rotate(31.5 917.5 668.75)">信息反馈</text>
<text x="936.25" y="727.5" font-family="Liberation Sans, Noto Sans CJK SC, sans-serif" font-size="12.5" font-weight="300" fill="#cc7773" text-anchor="middle" dominant-baseline="central" transform="rotate(31.5 936.25 727.5)">人事管理</text>
<text x="1125" y="666" font-family="Liberation Sans, Noto Sans CJK SC, sans-serif" font-size="12.5" font-weight="300" fill="#cc7773" text-anchor="middle" dominant-baseline="central" transform="rotate(-31.5 1125 666)">工作服务</text>
<text x="1101.25" y="721.25" font-family="Liberation Sans, Noto Sans CJK SC, sans-serif" font-size="12.5" font-weight="300" fill="#cc7773" text-anchor="middle" dominant-baseline="central" transform="rotate(-31.5 1101.25 721.25)">工作管理</text>
</svg>
</body>
</html>
